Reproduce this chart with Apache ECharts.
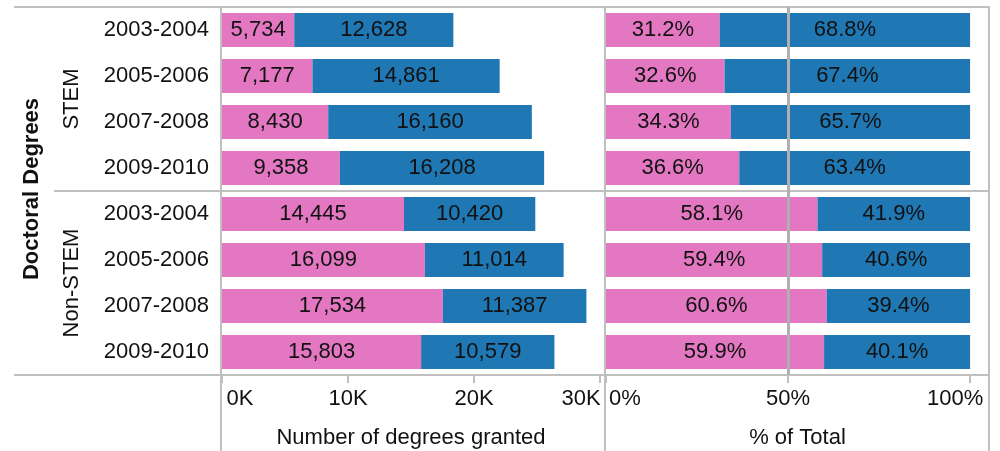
<!DOCTYPE html>
<html>
<head>
<meta charset="utf-8">
<script src="https://cdn.jsdelivr.net/npm/echarts@6/dist/echarts.min.js"></script>
<style>
html,body{margin:0;padding:0;background:#fff;}
#main{width:1000px;height:451px;}
</style>
</head>
<body>
<div id="main"></div>
<script>
// ---- data ----
var periods = ['2003-2004', '2005-2006', '2007-2008', '2009-2010'];
var groups = ['STEM', 'Non-STEM'];
var stemPink = [5734, 7177, 8430, 9358];
var stemBlue = [12628, 14861, 16160, 16208];
var nonStemPink = [14445, 16099, 17534, 15803];
var nonStemBlue = [10420, 11014, 11387, 10579];
var countTicks = [0, 10000, 20000, 30000];
var pctTicks = [0, 50, 100];
var refLine = 50;

// ---- derived ----
var rows = periods.concat(periods);
var pink = stemPink.concat(nonStemPink);
var blue = stemBlue.concat(nonStemBlue);
var pinkPct = pink.map(function (v, i) { return v / (v + blue[i]) * 100; });
var bluePct = blue.map(function (v, i) { return v / (pink[i] + v) * 100; });

var FONT = '"Liberation Sans", Arial, sans-serif';
var PINK = '#e377c2', BLUE = '#1f77b4', LINE = '#c0c0c0', TXT = '#111';
var FS = 22;

var chart = echarts.init(document.getElementById('main'), null, {renderer: 'canvas'});

function countLabel(p) { return Number(p.value).toLocaleString('en-US'); }
function pctLabel(p) { return Number(p.value).toFixed(1) + '%'; }

var labelStyle = {show: true, position: 'inside', color: TXT, fontSize: FS, fontFamily: FONT};

var option = {
  animation: false,
  textStyle: {fontFamily: FONT},
  grid: [
    {left: 222, right: 400, top: 7, height: 368, outerBoundsMode: 'none', containLabel: false},
    {left: 606, right: 11, top: 7, height: 368, outerBoundsMode: 'none', containLabel: false}
  ],
  xAxis: [
    {
      gridIndex: 0, type: 'value', min: 0, max: 30000, interval: 10000,
      name: 'Number of degrees granted', nameLocation: 'middle', nameGap: 52,
      nameTextStyle: {fontSize: FS, color: TXT, fontFamily: FONT},
      axisLine: {show: false}, splitLine: {show: false},
      axisTick: {show: true, length: 8, lineStyle: {color: LINE, width: 2}},
      axisLabel: {
        fontSize: FS, color: TXT, fontFamily: FONT, margin: 13,
        customValues: countTicks,
        formatter: function (v) {
          var t = (v / 1000) + 'K';
          if (v === 0) return '{l|' + t + '}';
          if (v === 30000) return '{r|' + t + '}';
          return t;
        },
        rich: {
          l: {fontSize: FS, color: TXT, fontFamily: FONT, padding: [0, 0, 0, 36]},
          r: {fontSize: FS, color: TXT, fontFamily: FONT, padding: [0, 38, 0, 0]}
        }
      }
    },
    {
      gridIndex: 1, type: 'value', min: 0, max: 105.2,
      name: '% of Total', nameLocation: 'middle', nameGap: 52,
      nameTextStyle: {fontSize: FS, color: TXT, fontFamily: FONT},
      axisLine: {show: false}, splitLine: {show: false},
      axisTick: {show: true, length: 8, customValues: pctTicks, lineStyle: {color: LINE, width: 2}},
      axisLabel: {
        fontSize: FS, color: TXT, fontFamily: FONT, margin: 13,
        customValues: pctTicks,
        formatter: function (v) {
          var t = v + '%';
          if (v === 0) return '{l|' + t + '}';
          if (v === 100) return '{r|' + t + '}';
          return t;
        },
        rich: {
          l: {fontSize: FS, color: TXT, fontFamily: FONT, padding: [0, 0, 0, 38]},
          r: {fontSize: FS, color: TXT, fontFamily: FONT, padding: [0, 30, 0, 0]}
        }
      }
    }
  ],
  yAxis: [
    {
      gridIndex: 0, type: 'category', data: rows, inverse: true,
      axisLine: {show: false}, axisTick: {show: false}, splitLine: {show: false},
      axisLabel: {fontSize: FS, color: TXT, fontFamily: FONT, margin: 13}
    },
    {
      gridIndex: 1, type: 'category', data: rows, inverse: true,
      axisLine: {show: false}, axisTick: {show: false}, splitLine: {show: false},
      axisLabel: {show: false}
    }
  ],
  series: [
    {name: 'Pink', type: 'bar', stack: 'c', xAxisIndex: 0, yAxisIndex: 0, data: pink, barWidth: 34,
      itemStyle: {color: PINK}, label: Object.assign({formatter: countLabel}, labelStyle)},
    {name: 'Blue', type: 'bar', stack: 'c', xAxisIndex: 0, yAxisIndex: 0, data: blue, barWidth: 34,
      itemStyle: {color: BLUE}, label: Object.assign({formatter: countLabel}, labelStyle)},
    {name: 'Pink %', type: 'bar', stack: 'p', xAxisIndex: 1, yAxisIndex: 1, data: pinkPct, barWidth: 34,
      itemStyle: {color: PINK}, label: Object.assign({formatter: pctLabel}, labelStyle)},
    {name: 'Blue %', type: 'bar', stack: 'p', xAxisIndex: 1, yAxisIndex: 1, data: bluePct, barWidth: 34,
      itemStyle: {color: BLUE}, label: Object.assign({formatter: pctLabel}, labelStyle),
      markLine: {
        silent: true, symbol: 'none', label: {show: false}, z: 10,
        lineStyle: {color: '#b0b0b0', width: 3, type: 'solid'},
        data: [{xAxis: refLine}]
      }}
  ],
  graphic: [
    {type: 'line', shape: {x1: 14, y1: 7, x2: 990, y2: 7}, style: {stroke: LINE, lineWidth: 2}, z: 5},
    {type: 'line', shape: {x1: 54, y1: 191, x2: 990, y2: 191}, style: {stroke: LINE, lineWidth: 2}, z: 5},
    {type: 'line', shape: {x1: 14, y1: 375, x2: 990, y2: 375}, style: {stroke: LINE, lineWidth: 2}, z: 5},
    {type: 'line', shape: {x1: 221, y1: 7, x2: 221, y2: 451}, style: {stroke: LINE, lineWidth: 2}, z: 5},
    {type: 'line', shape: {x1: 605, y1: 7, x2: 605, y2: 451}, style: {stroke: LINE, lineWidth: 2}, z: 5},
    {type: 'line', shape: {x1: 989, y1: 7, x2: 989, y2: 451}, style: {stroke: LINE, lineWidth: 2}, z: 5},
    {type: 'text', x: 32, y: 189, rotation: Math.PI / 2,
      style: {text: 'Doctoral Degrees', fill: TXT, font: 'bold 22px ' + FONT, textAlign: 'center', textVerticalAlign: 'middle'}},
    {type: 'text', x: 72, y: 99, rotation: Math.PI / 2,
      style: {text: groups[0], fill: TXT, font: '22px ' + FONT, textAlign: 'center', textVerticalAlign: 'middle'}},
    {type: 'text', x: 72, y: 283, rotation: Math.PI / 2,
      style: {text: groups[1], fill: TXT, font: '22px ' + FONT, textAlign: 'center', textVerticalAlign: 'middle'}}
  ]
};
chart.setOption(option);
</script>
</body>
</html>
